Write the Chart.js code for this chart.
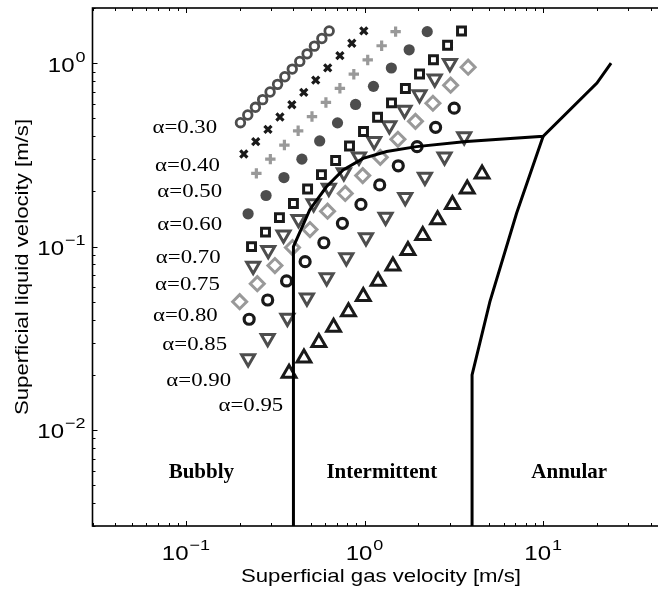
<!DOCTYPE html>
<html>
<head>
<meta charset="utf-8">
<script src="https://cdn.jsdelivr.net/npm/chart.js@4.4.0/dist/chart.umd.min.js"></script>
<style>
html, body { margin: 0; padding: 0; background: #fff; overflow: hidden; }
#wrap { position: relative; width: 672px; height: 590px; }
</style>
</head>
<body>
<div id="wrap"><canvas id="flowMap" width="672" height="590"></canvas></div>
<script>
// Void fraction labels, one per marker series
const alphaLabels = ['0.30', '0.40', '0.50', '0.60', '0.70', '0.75', '0.80', '0.85', '0.90', '0.95'];

// Superficial gas (jg) and liquid (jl) velocities [m/s] for each alpha
const jg30 = [0.202, 0.222, 0.245, 0.269, 0.296, 0.326, 0.358, 0.394, 0.434, 0.477, 0.524, 0.577, 0.634];
const jl30 = [0.474, 0.522, 0.575, 0.633, 0.697, 0.767, 0.844, 0.929, 1.023, 1.125, 1.239, 1.364, 1.50];

const jg40 = [0.211, 0.246, 0.288, 0.336, 0.392, 0.457, 0.533, 0.622, 0.728, 0.849, 0.991];
const jl40 = [0.320, 0.374, 0.436, 0.509, 0.594, 0.693, 0.809, 0.944, 1.10, 1.285, 1.50];

const jg50 = [0.248, 0.297, 0.356, 0.425, 0.508, 0.608, 0.728, 0.871, 1.042, 1.247, 1.493];
const jl50 = [0.251, 0.300, 0.358, 0.428, 0.512, 0.611, 0.730, 0.871, 1.042, 1.245, 1.486];

const jg60 = [0.223, 0.281, 0.354, 0.446, 0.561, 0.706, 0.891, 1.122, 1.413, 1.778, 2.244];
const jl60 = [0.151, 0.190, 0.238, 0.300, 0.377, 0.473, 0.596, 0.748, 0.942, 1.183, 1.486];

const jg70 = [0.233, 0.279, 0.334, 0.400, 0.480, 0.574, 0.689, 0.824, 0.987, 1.183, 1.416, 1.694, 2.032, 2.432, 2.917, 3.491];
const jl70 = [0.100, 0.120, 0.144, 0.172, 0.206, 0.247, 0.295, 0.354, 0.424, 0.508, 0.608, 0.728, 0.873, 1.045, 1.253, 1.50];

const jg75 = [0.238, 0.289, 0.352, 0.427, 0.519, 0.631, 0.766, 0.931, 1.132, 1.377, 1.675, 2.032, 2.472, 3.006];
const jl75 = [0.0785, 0.0955, 0.116, 0.141, 0.172, 0.209, 0.254, 0.309, 0.376, 0.457, 0.556, 0.676, 0.822, 1.000];

const jg80 = [0.200, 0.251, 0.315, 0.395, 0.495, 0.621, 0.780, 0.977, 1.225, 1.538, 1.928, 2.415, 3.034, 3.802];
const jl80 = [0.0501, 0.0628, 0.0789, 0.0989, 0.124, 0.156, 0.195, 0.244, 0.307, 0.385, 0.482, 0.605, 0.759, 0.951];

const jg85 = [0.226, 0.287, 0.366, 0.465, 0.592, 0.752, 0.955, 1.216, 1.545, 1.968, 2.500, 3.177];
const jl85 = [0.0402, 0.0512, 0.0650, 0.0828, 0.105, 0.134, 0.170, 0.217, 0.276, 0.351, 0.447, 0.569];

const jg90 = [0.223, 0.287, 0.370, 0.476, 0.614, 0.791, 1.019, 1.312, 1.690, 2.178, 2.805, 3.614];
const jl90 = [0.0246, 0.0317, 0.0408, 0.0526, 0.0678, 0.0873, 0.112, 0.145, 0.186, 0.240, 0.309, 0.398];

const jg95 = [0.378, 0.458, 0.555, 0.671, 0.813, 0.984, 1.191, 1.442, 1.750, 2.118, 2.564, 3.105, 3.758, 4.550];
const jl95 = [0.0204, 0.0247, 0.0300, 0.0364, 0.0441, 0.0535, 0.0647, 0.0785, 0.0953, 0.115, 0.140, 0.170, 0.206, 0.249];

// Flow regime boundaries
const bubblyJg = [0.4, 0.4, 0.494, 0.612, 0.759, 0.982, 1.33, 1.955, 3.72, 10, 20, 24];
const bubblyJl = [0.003, 0.1, 0.159, 0.212, 0.262, 0.303, 0.33, 0.351, 0.374, 0.40, 0.78, 1.0];
const annularJg = [4, 4, 5.03, 7.1, 10];
const annularJl = [0.003, 0.02, 0.050, 0.152, 0.40];

// Regime names
const regimeLabels = ['Bubbly', 'Intermittent', 'Annular'];

// Axis ticks (decades) and labels
const xDecades = [-1, 0, 1];
const yDecades = [-2, -1, 0];
const xTitle = 'Superficial gas velocity [m/s]';
const yTitle = 'Superficial liquid velocity [m/s]';

// Placement of the annotations (data coordinates)
const alphaLabelPos = [
    [0.0986, 0.455], [0.102, 0.282], [0.105, 0.204], [0.105, 0.135], [0.103, 0.089],
    [0.102, 0.0633], [0.0993, 0.043], [0.112, 0.0299], [0.118, 0.019], [0.231, 0.0139]
];
const regimeLabelPos = [[0.122, 0.006], [1.25, 0.006], [14.0, 0.006]];

const DARK = '#4d4d4d';
const LIGHT = '#999999';
const BLACK = '#1a1a1a';

function toPoints(xs, ys) {
    return xs.map((x, i) => ({ x: x, y: ys[i] }));
}

function markers(xs, ys, style, color, opts) {
    return Object.assign({
        data: toPoints(xs, ys),
        showLine: false,
        pointStyle: style,
        pointBorderColor: color,
        pointBackgroundColor: 'rgba(0,0,0,0)',
        pointRadius: 5,
        pointBorderWidth: 3,
        pointRotation: 0
    }, opts || {});
}

function boundary(xs, ys) {
    return {
        data: toPoints(xs, ys),
        showLine: true,
        borderColor: '#000',
        borderWidth: 3,
        pointRadius: 0,
        tension: 0,
        fill: false
    };
}

const datasets = [
    boundary(bubblyJg, bubblyJl),
    boundary(annularJg, annularJl),
    markers(jg30, jl30, 'circle', DARK, { pointRadius: 4.3, pointBorderWidth: 2.8 }),
    markers(jg40, jl40, 'crossRot', BLACK, { pointRadius: 5, pointBorderWidth: 3.2 }),
    markers(jg50, jl50, 'cross', LIGHT, { pointRadius: 5.2, pointBorderWidth: 3.2 }),
    markers(jg60, jl60, 'circle', DARK, { pointRadius: 5.6, pointBorderWidth: 0, pointBackgroundColor: DARK }),
    markers(jg70, jl70, 'rect', BLACK, { pointRadius: 5.6, pointBorderWidth: 3 }),
    markers(jg75, jl75, 'triangle', DARK, { pointRadius: 7.5, pointRotation: 180 }),
    markers(jg80, jl80, 'rectRot', LIGHT, { pointRadius: 7 }),
    markers(jg85, jl85, 'circle', BLACK, { pointRadius: 5, pointBorderWidth: 3.2 }),
    markers(jg90, jl90, 'triangle', DARK, { pointRadius: 7.5, pointRotation: 180 }),
    markers(jg95, jl95, 'triangle', BLACK, { pointRadius: 8, pointBorderWidth: 3 })
];

// Draw text stretched horizontally (the source figure is wide)
function wideText(ctx, str, x, y, font, align, sx) {
    ctx.save();
    ctx.translate(x, y);
    ctx.scale(sx, 1);
    ctx.font = font;
    ctx.textAlign = align;
    ctx.textBaseline = 'alphabetic';
    ctx.fillText(str, 0, 0);
    ctx.restore();
}

function powerLabel(ctx, exp, x, y, align) {
    const sx = 1.2;
    const base = '10';
    const sup = exp < 0 ? '\u2212' + Math.abs(exp) : String(exp);
    ctx.font = '20px "Liberation Sans", Arial, sans-serif';
    const wb = ctx.measureText(base).width * sx;
    ctx.font = '15px "Liberation Sans", Arial, sans-serif';
    const ws = ctx.measureText(sup).width * sx;
    const total = wb + ws + 1;
    let left = x - total / 2;
    if (align === 'right') left = x - total;
    wideText(ctx, base, left, y, '20px "Liberation Sans", Arial, sans-serif', 'left', sx);
    wideText(ctx, sup, left + wb + 1, y - 10, '15px "Liberation Sans", Arial, sans-serif', 'left', sx);
}

const decorations = {
    id: 'decorations',
    afterDraw(chart) {
        const ctx = chart.ctx;
        const xs = chart.scales.x;
        const ys = chart.scales.y;
        const a = chart.chartArea;
        ctx.save();
        ctx.fillStyle = '#000';
        ctx.strokeStyle = '#000';

        // frame
        ctx.lineWidth = 1.6;
        ctx.strokeRect(a.left, a.top, a.right - a.left, a.bottom - a.top);

        // log ticks, drawn inwards on every side
        ctx.lineWidth = 1;
        ctx.beginPath();
        for (let d = -3; d <= 2; d++) {
            for (let m = 1; m <= 9; m++) {
                const v = m * Math.pow(10, d);
                const len = m === 1 ? 5 : 3;
                if (v >= xs.min && v <= xs.max) {
                    const px = Math.round(xs.getPixelForValue(v)) + 0.5;
                    ctx.moveTo(px, a.bottom); ctx.lineTo(px, a.bottom - len);
                    ctx.moveTo(px, a.top); ctx.lineTo(px, a.top + len);
                }
                if (v >= ys.min && v <= ys.max) {
                    const py = Math.round(ys.getPixelForValue(v)) + 0.5;
                    ctx.moveTo(a.left, py); ctx.lineTo(a.left + len, py);
                    ctx.moveTo(a.right, py); ctx.lineTo(a.right - len, py);
                }
            }
        }
        ctx.stroke();

        // tick labels
        xDecades.forEach(d => {
            powerLabel(ctx, d, xs.getPixelForValue(Math.pow(10, d)), a.bottom + 34, 'center');
        });
        yDecades.forEach(d => {
            powerLabel(ctx, d, a.left - 7, ys.getPixelForValue(Math.pow(10, d)) + 8.4, 'right');
        });

        // axis titles
        wideText(ctx, xTitle, 381, 582, '18.5px "Liberation Sans", Arial, sans-serif', 'center', 1.2);
        ctx.save();
        ctx.translate(28, (a.top + a.bottom) / 2);
        ctx.rotate(-Math.PI / 2);
        wideText(ctx, yTitle, 0, 0, '18.5px "Liberation Sans", Arial, sans-serif', 'center', 1.2);
        ctx.restore();

        // void fraction labels
        alphaLabels.forEach((lab, i) => {
            const p = alphaLabelPos[i];
            wideText(ctx, '\u03b1=' + lab, xs.getPixelForValue(p[0]), ys.getPixelForValue(p[1]) + 6.8,
                '19.5px "Liberation Serif", "Times New Roman", serif', 'center', 1.17);
        });

        // regime labels
        regimeLabels.forEach((lab, i) => {
            const p = regimeLabelPos[i];
            wideText(ctx, lab, xs.getPixelForValue(p[0]), ys.getPixelForValue(p[1]) + 7,
                'bold 21px "Liberation Serif", "Times New Roman", serif', 'center', 1.0);
        });
        ctx.restore();
    }
};

const chart = new Chart(document.getElementById('flowMap'), {
    type: 'scatter',
    data: { datasets: datasets },
    options: {
        responsive: false,
        devicePixelRatio: 1,
        animation: false,
        layout: { autoPadding: false, padding: { left: 92.5, top: 8, right: 4, bottom: 64 } },
        scales: {
            x: { type: 'logarithmic', min: 0.03, max: 50, display: false },
            y: { type: 'logarithmic', min: 0.003, max: 2, display: false }
        },
        plugins: {
            legend: { display: false },
            tooltip: { enabled: false }
        }
    },
    plugins: [decorations]
});
</script>
</body>
</html>
